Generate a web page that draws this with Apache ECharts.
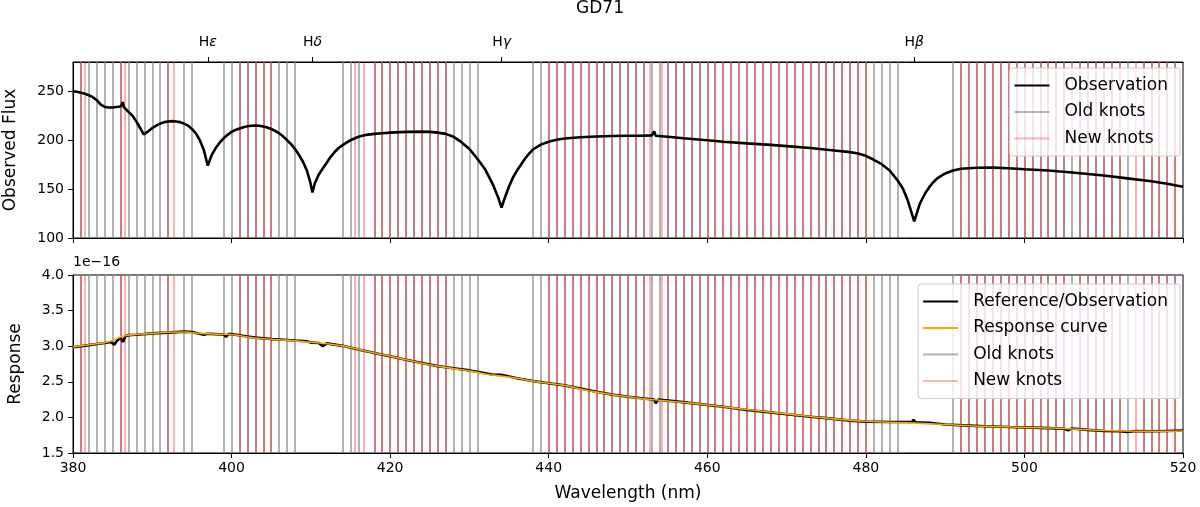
<!DOCTYPE html>
<html>
<head>
<meta charset="utf-8">
<script src="https://cdn.jsdelivr.net/npm/echarts@6/dist/echarts.min.js"></script>
<style>
html,body{margin:0;padding:0;background:#fff;}
#chart{width:1200px;height:507px;}
</style>
</head>
<body>
<div id="chart"></div>
<script>
// ---------- data ----------
const fluxWavelength = [380,380.5,381,381.5,382,382.5,383,383.5,384,384.5,385,385.5,386,386.3,386.4,387,387.5,388,388.5,388.9,389.3,390,390.5,391,391.5,392,392.5,393,393.5,394,394.5,395,395.5,396,396.5,397,397.5,398,398.5,399,399.5,400,400.5,401,401.5,402,402.5,403,403.5,404,404.5,405,405.5,406,406.5,407,407.5,408,408.5,409,409.5,409.9,410.2,410.5,411,411.5,412,412.5,413,413.5,414,415,416,417,418,419,420,422,424,425,426,427,428,429,430,431,432,433,433.6,434.05,434.5,435,435.5,436,436.5,437,437.5,438,439,440,441,442,444,446,448,450,452,453,453.3,453.5,455,457,460,462,465,468,470,473,476,478,479,480,481,482,483,484,484.7,485.3,486.1,486.8,487.5,488,488.5,489,490,491,492,494,496,498,500,503,506,510,513,516,518,520];
const fluxValue = [250,249.5,248.5,247.5,246,244,241,236.5,234,233.5,233.5,234,234.5,239,234,229,225,219,212,206,208,212.5,215,217,218.5,219.2,219.5,219.2,218.5,217,215,211.5,207,200,190,174,185,192,197.5,202,205.5,208.5,210.5,212,213.3,214.2,214.8,215,214.8,214,213,211.5,209.5,207,204,200,196,191,185,178,169,158,146.5,156,165,171,177,183,188,192,195,200,203.5,205.5,206.5,207.2,207.8,208.5,208.8,208.5,207.8,206.5,203.5,198,191,181,170,154,142,131,142,153,162,169,175,181,186,190.5,195.5,198.5,200.5,201.8,203,203.8,204.3,204.6,204.7,205,209,204.5,203.5,202,200,198.5,196.8,195.2,194,192,189.5,187.8,186.5,184,180,175.5,169,159,150,138,117,135,146,152,157,161,166,169,170.8,171.8,172,171.3,170.3,169,167,164,161,158,155.5,152.5];

// Response (units of 1e-16)
const respWavelength = [380,382,384,385,386,387,388,390,392,394,396,398,400,402,404,406,408,410,412,414,416,418,420,422,424,426,428,430,432,434,436,438,440,442,444,446,448,450,452,454,456,458,460,462,465,470,475,480,485,490,495,500,505,510,515,520];
const respValue = [2.99,3.02,3.05,3.08,3.13,3.155,3.165,3.18,3.195,3.2,3.18,3.17,3.165,3.13,3.105,3.09,3.075,3.055,3.035,3.005,2.955,2.905,2.86,2.81,2.76,2.72,2.685,2.655,2.61,2.58,2.55,2.51,2.48,2.45,2.4,2.355,2.32,2.29,2.26,2.24,2.22,2.2,2.175,2.15,2.11,2.05,1.99,1.945,1.925,1.9,1.875,1.86,1.845,1.815,1.805,1.81];

const refObsWavelength = [380,381,382,383,384,384.8,385.2,385.5,386,386.3,386.6,387,388,390,392,394,395,396.5,397,398,399,399.3,399.6,400,402,403,404,405,406,408,409.5,410,411,411.5,412,414,416,418,420,422,424,426,428,430,431,433,434,435,436,438,440,442,444,446,448,450,452,453.3,453.5,453.8,456,458,460,462,465,468,470,473,475,478,480,483,485.8,486,486.3,488,490,493,495,498,500,503,505,505.5,506,508,510,512,513,514,516,518,520];
const refObsValue = [2.985,3.0,3.015,3.03,3.045,3.06,3.02,3.07,3.12,3.06,3.14,3.155,3.16,3.18,3.19,3.205,3.2,3.16,3.175,3.17,3.165,3.13,3.17,3.17,3.135,3.12,3.11,3.1,3.095,3.08,3.07,3.05,3.045,3.0,3.04,3.005,2.955,2.905,2.86,2.81,2.765,2.72,2.69,2.66,2.64,2.6,2.6,2.575,2.55,2.51,2.48,2.45,2.405,2.36,2.32,2.29,2.265,2.25,2.2,2.25,2.225,2.2,2.175,2.15,2.105,2.07,2.045,2.01,1.99,1.955,1.94,1.935,1.935,1.965,1.93,1.925,1.9,1.885,1.875,1.865,1.86,1.85,1.84,1.82,1.845,1.825,1.81,1.805,1.795,1.81,1.805,1.81,1.815];

const oldKnots = [381,382,383,384,385,386,387,388,389,390,391,392,394,395,399,400,401,402,403,404,405,406,407,408,414,415,416,418,419,420,421,422,423,424,425,426,427,428,429,430,431,438,439,440,441,442,443,444,445,446,447,448,449,450,451,452,453,454,455,456,457,458,459,460,461,462,463,464,465,466,467,468,469,470,471,472,473,474,475,476,477,478,479,480,481,482,483,484,491,492,493,494,495,496,497,498,499,500,501,502,503,504,505,506,507,508,509,510,511,512,513,515,516,517,518,519];
const newKnots = [381,381.5,386,386.5,392,392.7,401,402,403,404,405,415.5,416.7,418,419,420,421,422,423,424,425,426,427,440,441,442,443,444,445,446,447,448,449,450,451,452,452.8,454.2,455,456,457,458,459,460,461,462,463,464,465,466,467,468,469,470,471,472,473,474,475,476,477,478,479,480,492,493,494,495,496,497,498,499,500,501,502,503,504,505,507,508,509,510,511,512,514,515,516,517,518,519];

const lineWavelengths = [397.0, 410.2, 434.05, 486.1];
const lineGreek = ['ε', 'δ', 'γ', 'β'];

const xTicks = [380,400,420,440,460,480,500,520];
const fluxTicks = [100,150,200,250];
const respTicks = [1.5,2.0,2.5,3.0,3.5,4.0];

// ---------- chart ----------
const FONT = 'DejaVu Sans';
const zip = (xs, ys) => xs.map((x, i) => [x, ys[i]]);
const OLD_COLOR = 'rgba(128,128,128,0.6)';
const NEW_COLOR = 'rgba(255,0,0,0.3)';

function knotSeries(name, knots, color, xi, yi, z) {
  return {
    name: name, type: 'line', xAxisIndex: xi, yAxisIndex: yi, data: [],
    color: color, silent: true, z: z,
    markLine: {
      silent: true, symbol: ['none','none'], z: z, animation: false,
      label: {show: false},
      lineStyle: {color: color, width: 2, type: 'solid'},
      emphasis: {disabled: true},
      data: knots.map(v => ({xAxis: v}))
    }
  };
}

const tickStyle = {show: true, inside: false, length: 5, lineStyle: {color: '#000', width: 1}};
const lblStyle = {color: '#000', fontFamily: FONT, fontSize: 14};
const nameStyle = {fontFamily: FONT, fontSize: 17, color: '#000'};
const legendBase = {
  orient: 'vertical', right: 20,
  icon: 'rect', itemWidth: 35, itemHeight: 2, itemGap: 9.5,
  padding: [9, 12, 9, 5],
  backgroundColor: 'rgba(255,255,255,0.8)', borderColor: '#cccccc', borderWidth: 1, borderRadius: 3,
  textStyle: {fontFamily: FONT, fontSize: 17, color: '#000', padding: [0, 0, 0, 10]},
  selectedMode: false
};

const chart = echarts.init(document.getElementById('chart'), null, {renderer: 'canvas'});
chart.setOption({
  animation: false,
  backgroundColor: '#fff',
  title: {
    text: 'GD71', left: 'center', top: 0, padding: 0,
    textStyle: {fontFamily: FONT, fontSize: 17, fontWeight: 'normal', color: '#000'}
  },
  graphic: [{
    type: 'text', left: 73, top: 255,
    style: {text: '1e\u221216', font: '14px "DejaVu Sans"', fill: '#000'}
  }],
  grid: [
    {left: 73, right: 17, top: 62, height: 176, show: true, borderColor: '#000', borderWidth: 1, backgroundColor: 'transparent', containLabel: false, outerBoundsMode: 'none'},
    {left: 73, right: 17, top: 275, height: 178, show: true, borderColor: '#000', borderWidth: 1, backgroundColor: 'transparent', containLabel: false, outerBoundsMode: 'none'}
  ],
  legend: [
    Object.assign({}, legendBase, {top: 68, data: ['Observation','Old knots','New knots']}),
    Object.assign({}, legendBase, {top: 284, data: ['Reference/Observation','Response curve','Old knots','New knots']})
  ],
  xAxis: [
    {
      type: 'value', gridIndex: 0, min: 380, max: 520, interval: 20, position: 'bottom',
      axisLine: {show: true, onZero: false, lineStyle: {color: '#000'}},
      axisTick: tickStyle, axisLabel: {show: false}, splitLine: {show: false}
    },
    {
      type: 'value', gridIndex: 0, min: 380, max: 520, position: 'top',
      axisLine: {show: true, onZero: false, lineStyle: {color: '#000'}},
      axisTick: Object.assign({}, tickStyle, {customValues: lineWavelengths}),
      axisLabel: Object.assign({}, lblStyle, {
        margin: 13,
        customValues: lineWavelengths,
        formatter: function (v) {
          let idx = 0, best = 1e9;
          lineWavelengths.forEach((w, i) => { if (Math.abs(w - v) < best) { best = Math.abs(w - v); idx = i; } });
          return 'H{g|' + lineGreek[idx] + '}';
        },
        rich: {g: {fontStyle: 'italic', fontFamily: FONT, fontSize: 14, color: '#000'}}
      }),
      splitLine: {show: false}
    },
    {
      type: 'value', gridIndex: 1, min: 380, max: 520, interval: 20, position: 'bottom',
      name: 'Wavelength (nm)', nameLocation: 'middle', nameGap: 32,
      nameTextStyle: nameStyle,
      axisLine: {show: true, onZero: false, lineStyle: {color: '#000'}},
      axisTick: tickStyle,
      axisLabel: Object.assign({}, lblStyle, {margin: 8, customValues: xTicks, formatter: v => String(Math.round(v))}),
      splitLine: {show: false}
    }
  ],
  yAxis: [
    {
      type: 'value', gridIndex: 0, min: 100, max: 280,
      name: 'Observed Flux', nameLocation: 'middle', nameGap: 54,
      nameTextStyle: nameStyle,
      axisLine: {show: true, onZero: false, lineStyle: {color: '#000'}},
      axisTick: Object.assign({}, tickStyle, {customValues: fluxTicks}),
      axisLabel: Object.assign({}, lblStyle, {margin: 9, customValues: fluxTicks}),
      splitLine: {show: false}
    },
    {
      type: 'value', gridIndex: 1, min: 1.5, max: 4.0,
      name: 'Response', nameLocation: 'middle', nameGap: 49,
      nameTextStyle: nameStyle,
      axisLine: {show: true, onZero: false, lineStyle: {color: '#000'}},
      axisTick: Object.assign({}, tickStyle, {customValues: respTicks}),
      axisLabel: Object.assign({}, lblStyle, {margin: 9, customValues: respTicks, formatter: v => v.toFixed(1)}),
      splitLine: {show: false}
    }
  ],
  series: [
    knotSeries('Old knots', oldKnots, OLD_COLOR, 0, 0, 2),
    knotSeries('New knots', newKnots, NEW_COLOR, 0, 0, 3),
    {
      name: 'Observation', type: 'line', xAxisIndex: 0, yAxisIndex: 0, z: 10,
      data: zip(fluxWavelength, fluxValue), showSymbol: false, symbol: 'none',
      color: '#000', lineStyle: {color: '#000', width: 2.6}, silent: true
    },
    knotSeries('Old knots', oldKnots, OLD_COLOR, 2, 1, 2),
    knotSeries('New knots', newKnots, NEW_COLOR, 2, 1, 3),
    {
      name: 'Reference/Observation', type: 'line', xAxisIndex: 2, yAxisIndex: 1, z: 10,
      data: zip(refObsWavelength, refObsValue), showSymbol: false, symbol: 'none',
      color: '#000', lineStyle: {color: '#000', width: 2.6}, silent: true
    },
    {
      name: 'Response curve', type: 'line', xAxisIndex: 2, yAxisIndex: 1, z: 11,
      data: zip(respWavelength, respValue), showSymbol: false, symbol: 'none', smooth: 0.4,
      color: '#ffa500', lineStyle: {color: '#ffa500', width: 1.6}, silent: true
    }
  ]
});
</script>
</body>
</html>
